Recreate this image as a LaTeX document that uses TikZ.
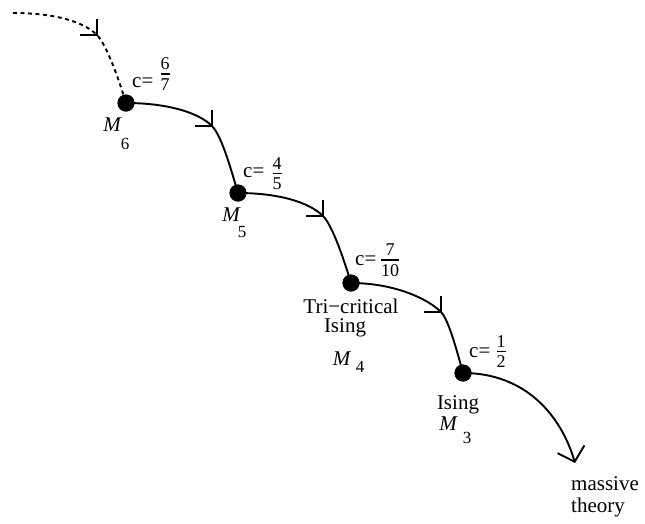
\documentclass[tikz,border=0pt]{standalone}
\usepackage{fontspec}
\setmainfont{Liberation Serif}
\usetikzlibrary{arrows.meta}
\newcommand{\myfrac}[2]{{\fontsize{18}{18}\selectfont\vbox{\offinterlineskip\halign{\hfil##\hfil\cr #1\cr\noalign{\kern3.5pt\hrule height1.6pt\kern3.5pt}#2\cr}}}}
\tikzset{
  dot/.style={circle, fill=black, inner sep=0pt, minimum size=17pt},
  lbl/.style={font=\fontsize{21}{24}\selectfont, inner sep=0pt},
  mlbl/.style={font=\fontsize{21}{24}\selectfont\itshape, inner sep=0pt},
  sublbl/.style={font=\fontsize{17}{20}\selectfont, inner sep=0pt},
  flow/.style={line width=1.9pt},
  tickmark/.style={line width=1.9pt},
  frac/.style={inner sep=0pt}
}
\begin{document}
\begin{tikzpicture}[x=1pt,y=-1pt]
\useasboundingbox (0,0) rectangle (645,523);
% fixed points
\node[dot] (m6) at (126,103) {};
\node[dot] (m5) at (238,193) {};
\node[dot] (m4) at (351,283) {};
\node[dot] (m3) at (463,373) {};
\coordinate (s) at (13,13);
\coordinate (k0) at (97,35);
\coordinate (k1) at (212,126);
\coordinate (k2) at (323,216);
\coordinate (k3) at (441,312);
\coordinate (e) at (575,463);
% flows
\draw[flow, dash pattern=on 4pt off 3.5pt] (s) .. controls +(40,0) and +(-14,-14) .. (k0)
   .. controls +(10,10) and +(-6,-20) .. (m6.center);
\draw[flow] (m6.center) .. controls +(40,0) and +(-14,-14) .. (k1)
   .. controls +(10,10) and +(-6,-20) .. (m5.center);
\draw[flow] (m5.center) .. controls +(40,0) and +(-14,-14) .. (k2)
   .. controls +(10,10) and +(-6,-20) .. (m4.center);
\draw[flow] (m4.center) .. controls +(42,0) and +(-14,-14) .. (k3)
   .. controls +(8,8) and +(-5,-18) .. (m3.center);
\draw[flow, -{Straight Barb[length=13pt,width=28pt,line width=1.9pt]}] (m3.center) .. controls +(62,0) and +(-14,-48) .. (e);
% tick marks
\foreach \k in {k0,k1,k2,k3}
  \draw[tickmark] (\k) +(0,-16) -- (\k) -- +(-17,0);
% redraw dots on top
\foreach \m in {m6,m5,m4,m3}
  \fill (\m) circle (8.5pt);
% central charges
\node[lbl, anchor=base west] (c6) at (132,87) {c=};
\node[frac] (f6) at (165,74) {\myfrac{6}{7}};
\node[lbl, anchor=base west] (c5) at (243,177) {c=};
\node[frac] (f5) at (277,173.5) {\myfrac{4}{5}};
\node[lbl, anchor=base west] (c4) at (355,265) {c=};
\node[frac] (f4) at (390,260) {\myfrac{7}{10}};
\node[lbl, anchor=base west] (c3) at (469,357) {c=};
\node[frac] (f3) at (501,351.5) {\myfrac{1}{2}};
% M labels
\node[mlbl] (l6) at (112,125) {M};
\node[sublbl] (s6) at (125,143.5) {6};
\node[mlbl] (l5) at (231,215) {M};
\node[sublbl] (s5) at (242,232) {5};
\node[mlbl] (l4) at (341.5,359) {M};
\node[sublbl] (s4) at (360,367) {4};
\node[mlbl] (l3) at (448,423.5) {M};
\node[sublbl] (s3) at (467,437.5) {3};
% names
\node[lbl, anchor=base] (tri) at (351,313) {Tri−critical};
\node[lbl, anchor=base] (is4) at (345,332) {Ising};
\node[lbl, anchor=base] (is3) at (458,409) {Ising};
\node[lbl, anchor=base west] (mas) at (571,490) {massive};
\node[lbl, anchor=base west] (the) at (571,512) {theory};
\end{tikzpicture}
\end{document}
